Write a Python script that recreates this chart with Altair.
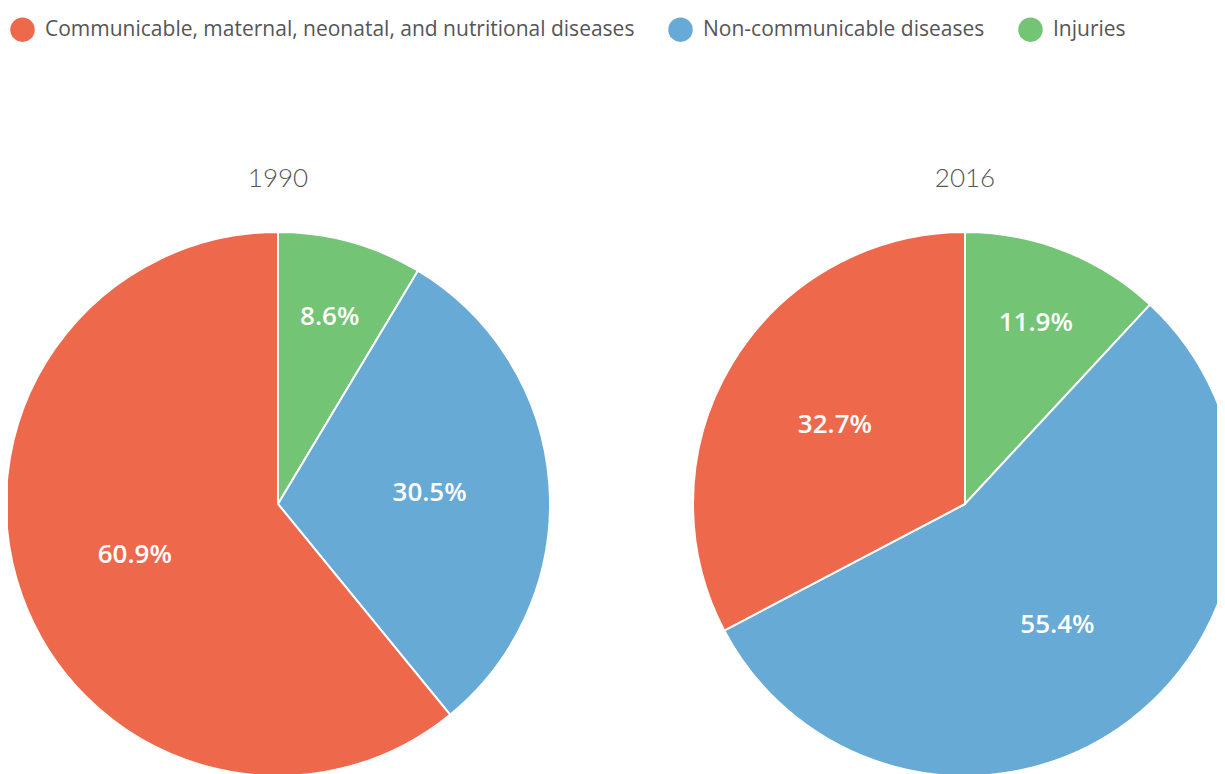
import altair as alt
import pandas as pd

years = ["1990", "1990", "1990", "2016", "2016", "2016"]
categories = ["Injuries", "Non-communicable diseases",
              "Communicable, maternal, neonatal, and nutritional diseases"] * 2
values = [8.6, 30.5, 60.9, 11.9, 55.4, 32.7]
slice_order = [0, 1, 2, 0, 1, 2]

legend_domain = ["Communicable, maternal, neonatal, and nutritional diseases",
                 "Non-communicable diseases", "Injuries"]
legend_colors = ["#EE684C", "#67AAD5", "#73C474"]
year_domain = ["1990", "2016"]

df = pd.DataFrame({"year": years, "category": categories,
                   "value": values, "ord": slice_order})

FONT = "Open Sans"

base = alt.Chart(df).transform_window(
    end="sum(value)", groupby=["year"], sort=[alt.SortField("ord")], frame=[None, 0]
).transform_calculate(
    start="datum.end - datum.value",
    mid="datum.end - datum.value / 2",
    label="format(datum.value, '.1f') + '%'",
)

xenc = alt.X("year:N", scale=alt.Scale(type="point", domain=year_domain,
                                       range=[270, 957], padding=0), axis=None)
theta_scale = alt.Scale(domain=[0, 100], range=[0, 6.283185307179586])

arcs = base.mark_arc(radius=272, stroke="white", strokeWidth=2).encode(
    x=xenc,
    y=alt.value(496),
    theta=alt.Theta("start:Q", scale=theta_scale),
    theta2="end:Q",
    color=alt.Color("category:N",
                    scale=alt.Scale(domain=legend_domain, range=legend_colors),
                    legend=alt.Legend(
                        title=None, orient="none", legendX=2, legendY=9,
                        direction="horizontal", symbolType="circle",
                        symbolSize=600, symbolStrokeWidth=0, symbolOpacity=1,
                        labelFont=FONT, labelFontSize=21, labelColor="#555555",
                        labelOffset=10, columnPadding=33, labelLimit=800,
                    )),
)

def label_layer(cond, r):
    return base.transform_filter(cond).mark_text(
        font=FONT, fontSize=26, fontWeight=600, color="white", radius=r
    ).encode(
        x=xenc,
        y=alt.value(496),
        theta=alt.Theta("mid:Q", scale=theta_scale),
        text="label:N",
    )

labels_small = label_layer("datum.value < 15", 194)
labels_big = label_layer("datum.value >= 15", 152)

titles = alt.Chart(df).transform_filter("datum.ord == 0").mark_text(
    font="Lato", fontSize=26, color="#555555", fontWeight=300
).encode(
    x=xenc,
    y=alt.value(171),
    text="year:N",
)

chart = alt.layer(arcs, labels_small, labels_big, titles).properties(
    width=1209, height=768, padding=0,
    autosize=alt.AutoSizeParams(type="none"),
).configure_view(stroke=None)

chart.save("out.html", embed_options={"renderer": "svg", "actions": False})
